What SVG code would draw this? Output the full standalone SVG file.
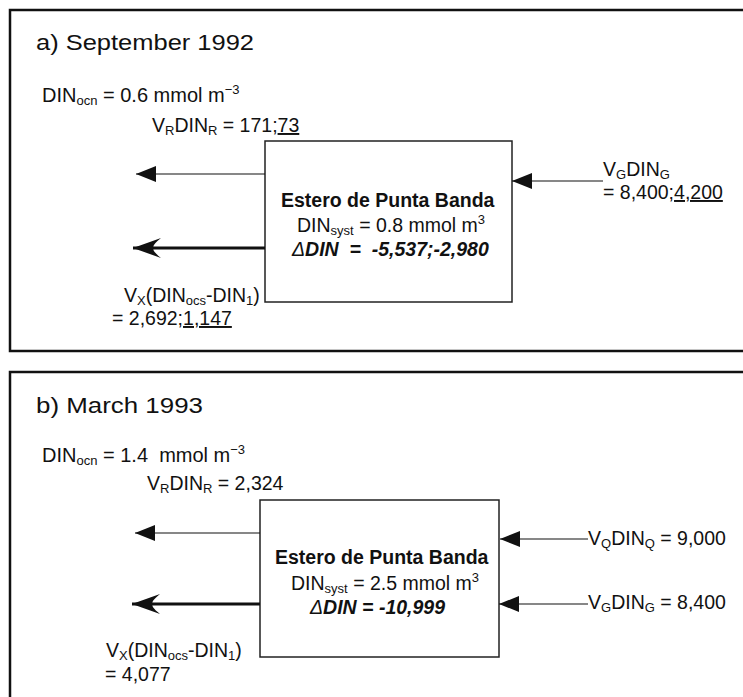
<svg xmlns="http://www.w3.org/2000/svg" width="743" height="697" viewBox="0 0 743 697">
<style>
  text { font-family: "Liberation Sans", Arial, sans-serif; font-size: 19.5px; fill: #111; }
  .title { font-size: 22px; }
  .din { font-size: 20px; }
  .b { font-weight: bold; }
  .bi { font-weight: bold; font-style: italic; }
  .sub { font-size: 13px; }
  .frame { fill: none; stroke: #111; stroke-width: 2.5; }
  .box { fill: #fff; stroke: #222; stroke-width: 1.5; }
  .thin { stroke: #111; stroke-width: 1.2; fill: none; }
  .thick { stroke: #111; stroke-width: 3.2; fill: none; }
  .u { text-decoration: underline; }
</style>
<defs>
  <marker id="headThin" viewBox="0 0 20 16" refX="20" refY="8" markerWidth="20" markerHeight="16" markerUnits="userSpaceOnUse" orient="auto">
    <path d="M0,0 L20,8 L0,16 z" fill="#111"/>
  </marker>
  <marker id="headThick" viewBox="0 0 28 20" refX="28" refY="10" markerWidth="28" markerHeight="20" markerUnits="userSpaceOnUse" orient="auto">
    <path d="M28,10 L0,0 Q10,8 7,10 Q10,12 0,20 z" fill="#111"/>
  </marker>
</defs>

<!-- Panel a -->
<g id="panel-a">
  <rect class="frame" x="10" y="10" width="800" height="341"/>
  <text class="title" x="36" y="50" textLength="218" lengthAdjust="spacingAndGlyphs">a) September 1992</text>
  <text class="din" x="42" y="102">DIN<tspan class="sub" dy="3">ocn</tspan><tspan dy="-3"> = 0.6 mmol m</tspan><tspan class="sub" dy="-8">−3</tspan></text>
</g>
<g id="node-a-box">
  <rect class="box" x="265" y="141" width="247" height="161"/>
  <text class="b" x="281" y="207">Estero de Punta Banda</text>
  <text x="297" y="232">DIN<tspan class="sub" dy="3">syst</tspan><tspan dy="-3"> = 0.8 mmol m</tspan><tspan class="sub" dy="-8">3</tspan></text>
  <text class="bi" x="292" y="256" xml:space="preserve"><tspan font-weight="normal">Δ</tspan>DIN  =  -5,537;-2,980</text>
</g>
<g id="label-a-vr">
  <text x="152" y="132">V<tspan class="sub" dy="3">R</tspan><tspan dy="-3">DIN</tspan><tspan class="sub" dy="3">R</tspan><tspan dy="-3"> = 171;</tspan><tspan class="u">73</tspan></text>
</g>
<g id="label-a-vx">
  <text x="124" y="302">V<tspan class="sub" dy="3">X</tspan><tspan dy="-3">(DIN</tspan><tspan class="sub" dy="3">ocs</tspan><tspan dy="-3">-DIN</tspan><tspan class="sub" dy="3">1</tspan><tspan dy="-3">)</tspan></text>
  <text x="112" y="325">= 2,692;<tspan class="u">1,147</tspan></text>
</g>
<g id="label-a-vg">
  <text x="603" y="176">V<tspan class="sub" dy="3">G</tspan><tspan dy="-3">DIN</tspan><tspan class="sub" dy="3">G</tspan></text>
  <text x="603" y="199">= 8,400;<tspan class="u">4,200</tspan></text>
</g>

<!-- Panel b -->
<g id="panel-b">
  <rect class="frame" x="10" y="372" width="800" height="400"/>
  <text class="title" x="36" y="413" textLength="167" lengthAdjust="spacingAndGlyphs">b) March 1993</text>
  <text class="din" x="42" y="462" xml:space="preserve">DIN<tspan class="sub" dy="3">ocn</tspan><tspan dy="-3"> = 1.4  mmol m</tspan><tspan class="sub" dy="-8">−3</tspan></text>
</g>
<g id="node-b-box">
  <rect class="box" x="260" y="500" width="239" height="157"/>
  <text class="b" x="275" y="564">Estero de Punta Banda</text>
  <text x="291" y="590">DIN<tspan class="sub" dy="3">syst</tspan><tspan dy="-3"> = 2.5 mmol m</tspan><tspan class="sub" dy="-8">3</tspan></text>
  <text class="bi" x="310" y="614"><tspan font-weight="normal">Δ</tspan>DIN = -10,999</text>
</g>
<g id="label-b-vr">
  <text x="147" y="490">V<tspan class="sub" dy="3">R</tspan><tspan dy="-3">DIN</tspan><tspan class="sub" dy="3">R</tspan><tspan dy="-3"> = 2,324</tspan></text>
</g>
<g id="label-b-vx">
  <text x="106" y="657">V<tspan class="sub" dy="3">X</tspan><tspan dy="-3">(DIN</tspan><tspan class="sub" dy="3">ocs</tspan><tspan dy="-3">-DIN</tspan><tspan class="sub" dy="3">1</tspan><tspan dy="-3">)</tspan></text>
  <text x="105" y="681">= 4,077</text>
</g>
<g id="label-b-vq">
  <text x="588" y="545">V<tspan class="sub" dy="3">Q</tspan><tspan dy="-3">DIN</tspan><tspan class="sub" dy="3">Q</tspan><tspan dy="-3"> = 9,000</tspan></text>
</g>
<g id="label-b-vg">
  <text x="588" y="609">V<tspan class="sub" dy="3">G</tspan><tspan dy="-3">DIN</tspan><tspan class="sub" dy="3">G</tspan><tspan dy="-3"> = 8,400</tspan></text>
</g>

<g id="connectors">
  <line class="thin" x1="265" y1="174" x2="136" y2="174" marker-end="url(#headThin)"/>
  <line class="thick" x1="265" y1="248" x2="133" y2="248" marker-end="url(#headThick)"/>
  <line class="thin" x1="603" y1="181" x2="512" y2="181" marker-end="url(#headThin)"/>
  <line class="thin" x1="260" y1="533" x2="135" y2="533" marker-end="url(#headThin)"/>
  <line class="thick" x1="260" y1="604" x2="132" y2="604" marker-end="url(#headThick)"/>
  <line class="thin" x1="588" y1="539" x2="500" y2="539" marker-end="url(#headThin)"/>
  <line class="thin" x1="588" y1="604" x2="499" y2="604" marker-end="url(#headThin)"/>
</g>
</svg>
